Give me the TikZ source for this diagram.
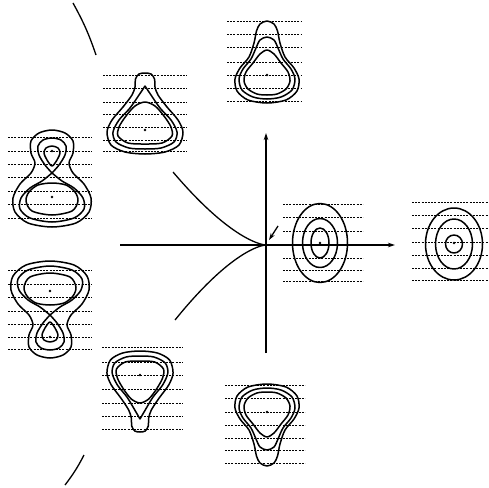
\documentclass[tikz,border=0pt]{standalone}
\usetikzlibrary{arrows.meta}
\begin{document}
\begin{tikzpicture}[x=1pt,y=-1pt,
  ctr/.style={line width=1.5pt, line join=round, line cap=round},
  hatch/.style={line width=1pt, dash pattern=on 2pt off 1.2pt},
  axisline/.style={line width=1.3pt},
  tipped/.style={-{Stealth[length=7pt,width=4.5pt]}},
  dotmark/.style={fill=black}]
\useasboundingbox (0,0) rectangle (489,487);

\newcommand\hatchset[3]{\foreach \yy in {#3} {\draw[hatch] (#1,\yy) -- (#2,\yy);}}

% pear shape (single minimum with tail upward)
\newcommand\pearshape{%
  \draw[ctr] plot[smooth cycle] coordinates {(0,-54) (7,-51) (10.5,-44) (13,-32) (18,-18) (27,-7) (32,4) (30,16) (19,25) (0,28) (-19,25) (-30,16) (-32,4) (-27,-7) (-18,-18) (-13,-32) (-10.5,-44) (-7,-51)};
  \draw[ctr] plot[smooth cycle] coordinates {(0,-38) (7,-35) (11,-27) (16,-16) (24,-6) (28,4) (25,15) (14,22) (0,24) (-14,22) (-25,15) (-28,4) (-24,-6) (-16,-16) (-11,-27) (-7,-35)};
  \draw[ctr] plot[smooth cycle] coordinates {(0,-25) (7,-21) (14,-12) (21,-3) (23,6) (19,14) (10,19) (0,20) (-10,19) (-19,14) (-23,6) (-21,-3) (-14,-12) (-7,-21)};
  \fill[dotmark] (0,0) circle (1.4pt);}

% teardrop with knob
\newcommand\knobshape{%
  \draw[ctr] plot[smooth cycle] coordinates {(0,-57) (6,-56) (9.5,-51) (10,-43) (13,-35) (22,-23) (33,-10) (38,2) (34,15) (20,22) (0,24) (-20,22) (-34,15) (-38,2) (-33,-10) (-22,-23) (-13,-35) (-10,-43) (-9.5,-51) (-6,-56)};
  \draw[ctr] plot[smooth] coordinates {(0,-44) (6,-35) (15,-22) (26,-10) (32,2) (29,12) (16,18) (0,19) (-16,18) (-29,12) (-32,2) (-26,-10) (-15,-22) (-6,-35) (0,-44)};
  \draw[ctr] plot[smooth cycle] coordinates {(0,-28) (10,-24) (19,-14) (26,-3) (27,6) (17,13) (0,14) (-17,13) (-27,6) (-26,-3) (-19,-14) (-10,-24)};
  \fill[dotmark] (0,0) circle (1.4pt);}

% figure eight (two minima)
\newcommand\eightshape{%
  \draw[ctr] plot[smooth cycle] coordinates {(0,-43) (13,-40) (21,-32) (21,-20) (17,-10) (21,0) (32,11) (39,25) (37,39) (24,50) (0,54) (-24,50) (-37,39) (-39,25) (-32,11) (-21,0) (-17,-10) (-21,-20) (-21,-32) (-13,-40)};
  \draw[ctr] plot[smooth] coordinates {(0,0) (7,-8) (13,-18) (14,-27) (9,-33) (0,-35) (-9,-33) (-14,-27) (-13,-18) (-7,-8) (0,0)};
  \draw[ctr] plot[smooth] coordinates {(0,0) (10,8) (22,15) (31,25) (32,36) (22,45) (0,49) (-22,45) (-32,36) (-31,25) (-22,15) (-10,8) (0,0)};
  \draw[ctr] plot[smooth cycle] coordinates {(0,-27) (6,-25) (8,-20) (5,-13) (0,-7) (-5,-13) (-8,-20) (-6,-25)};
  \draw[ctr] plot[smooth cycle] coordinates {(0,10) (14,12) (23,19) (26,28) (20,38) (0,42) (-20,38) (-26,28) (-23,19) (-14,12)};
  \fill[dotmark] (0,-22) circle (1.4pt);
  \fill[dotmark] (0,24) circle (1.4pt);}

% ---- hatch lines
\hatchset{227}{302}{22,35,48,62,75,88,101}
\hatchset{103}{187}{75,88,102,114,127,140,151}
\hatchset{102}{183}{347,362,375,389,403,416,429}
\hatchset{225}{305}{385,398,412,425,438,450,463}
\hatchset{8}{92}{137,151,164,177,191,204,218}
\hatchset{8}{92}{270,284,297,311,324,337,349}
\hatchset{283}{363}{204,217,231,258,270,281}
\hatchset{412}{488}{202,215,228,242,255,268,280}

% ---- contour diagrams
\begin{scope}[shift={(267,75)}]\pearshape\end{scope}
\begin{scope}[shift={(267,412)},yscale=-1]\pearshape\end{scope}
\begin{scope}[shift={(145,130)}]\knobshape\end{scope}
\begin{scope}[shift={(140,375)},yscale=-1,xscale=0.87]\knobshape\end{scope}
\begin{scope}[shift={(52,173)}]\eightshape\end{scope}
\begin{scope}[shift={(50,315)},yscale=-1]\eightshape\end{scope}

\begin{scope}[shift={(320,243)}]
  \draw[ctr] (0,0) ellipse [x radius=27.5, y radius=39.5];
  \draw[ctr] (0,0) ellipse [x radius=17.5, y radius=24.5];
  \draw[ctr] (0,0) ellipse [x radius=9, y radius=15];
  \fill[dotmark] (0,0) circle (1.4pt);
\end{scope}
\begin{scope}[shift={(454,244)}]
  \draw[ctr] (0,0) ellipse [x radius=28.5, y radius=36];
  \draw[ctr] (0,0) ellipse [x radius=18.5, y radius=25];
  \draw[ctr] (0,0) ellipse [x radius=8.5, y radius=9];
  \fill[dotmark] (0,-1) circle (1.4pt);
\end{scope}

% ---- axes
\coordinate (O) at (266,245);
\coordinate (xl) at (120,245);
\coordinate (xr) at (395,245);
\coordinate (yb) at (266,353);
\coordinate (yt) at (266,133);
\coordinate (sa) at (278,226);
\coordinate (sb) at (269,240);
\draw[axisline,tipped] (xl) -- (xr);
\draw[axisline,tipped] (yb) -- (yt);
\draw[axisline,tipped] (sa) -- (sb);

% ---- cusp (bifurcation set)
\draw[axisline] plot[domain=0:1,samples=40] ({266-93*\x},{245-73*\x*sqrt(\x)});
\draw[axisline] plot[domain=0:1,samples=40] ({266-91*\x},{245+75*\x*sqrt(\x)});

% ---- outer boundary strokes
\coordinate (ta) at (73,3);
\coordinate (tb) at (96,55);
\coordinate (ba) at (84,455);
\coordinate (bb) at (65,485);
\draw[axisline] (ta) to[bend left=5] (tb);
\draw[axisline] (ba) to[bend left=5] (bb);
\end{tikzpicture}
\end{document}
